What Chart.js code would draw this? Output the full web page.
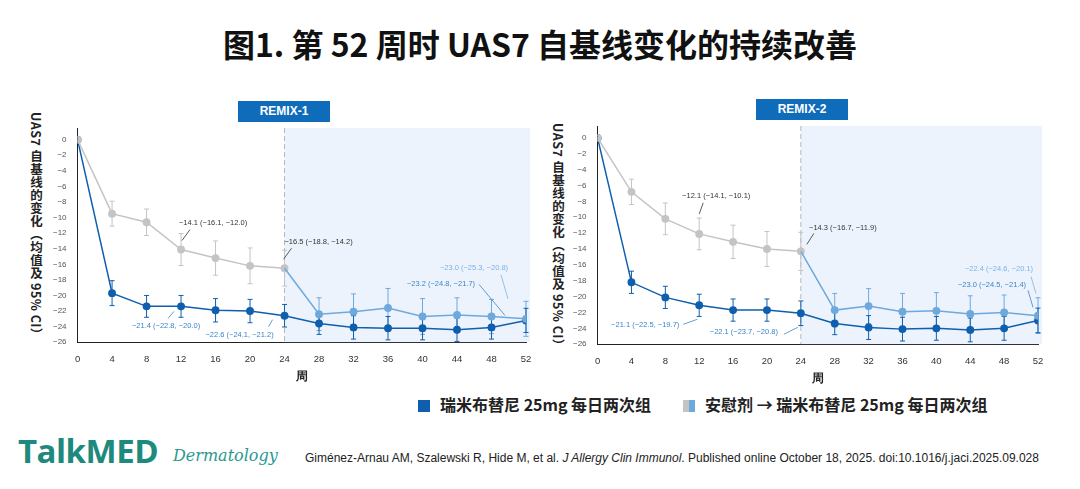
<!DOCTYPE html>
<html><head><meta charset="utf-8">
<script src="https://cdn.jsdelivr.net/npm/chart.js@4/dist/chart.umd.min.js"></script>
<style>
body{margin:0;width:1080px;height:489px;background:#fff;position:relative;overflow:hidden;font-family:"Noto Sans CJK SC","Noto Sans",sans-serif;}
.abs{position:absolute;}
h1{position:absolute;left:0;width:1080px;top:20px;margin:0;text-align:center;font-size:32px;font-weight:bold;color:#111;}
.banner{background:#0f6cba;color:#fff;font:bold 12px "Liberation Sans",Arial,sans-serif;text-align:center;line-height:21px;height:21px;width:92px;}
.ytitle{writing-mode:vertical-rl;font-size:12.5px;font-weight:bold;color:#222;letter-spacing:0.5px;}
.leg{font-size:16px;font-weight:bold;color:#222;}
.sq{display:inline-block;width:12px;height:12px;vertical-align:-1px;margin-right:10px;}
</style></head><body>
<h1>图1. 第 52 周时 UAS7 自基线变化的持续改善</h1>
<div class="abs banner" style="left:238px;top:101px">REMIX-1</div>
<div class="abs banner" style="left:756px;top:99px">REMIX-2</div>
<div class="abs ytitle" style="left:27px;top:112px">UAS7 自基线的变化（均值及 95% CI）</div>
<div class="abs ytitle" style="left:549px;top:123px">UAS7 自基线的变化（均值及 95% CI）</div>
<canvas id="c1" class="abs" style="left:50px;top:100px" width="490" height="288"></canvas>
<canvas id="c2" class="abs" style="left:570px;top:98px" width="500" height="292"></canvas>
<div class="abs leg" style="left:418px;top:392px"><span class="sq" style="background:#0f5fae"></span>瑞米布替尼 25mg 每日两次组</div>
<div class="abs leg" style="left:683px;top:392px"><span class="sq" style="width:6px;margin-right:0;background:#c4c4c4"></span><span class="sq" style="width:6px;background:#6ea9dd"></span>安慰剂 → 瑞米布替尼 25mg 每日两次组</div>
<div class="abs" style="left:18px;top:428px;font:bold 33px 'Open Sans',sans-serif;color:#1e8a7e;letter-spacing:-0.5px">TalkMED</div>
<div class="abs" style="left:173px;top:446px;font:italic 16px 'DejaVu Serif',serif;color:#2a9a90">Dermatology</div>
<div class="abs" style="left:305px;top:451px;font:12px 'Liberation Sans',Arial,sans-serif;color:#222">Giménez-Arnau AM, Szalewski R, Hide M, et al. <i>J Allergy Clin Immunol</i>. Published online October 18, 2025. doi:10.1016/j.jaci.2025.09.028</div>
<script>
const weeks = [0,4,8,12,16,20,24,28,32,36,40,44,48,52];
const placeboWeeks = [0,4,8,12,16,20,24];
const switchWeeks = [24,28,32,36,40,44,48,52];

// REMIX-1
const r1Rem = [0,-19.7,-21.4,-21.4,-21.9,-22.0,-22.6,-23.6,-24.1,-24.2,-24.2,-24.4,-24.1,-23.2];
const r1RemErr = [0,1.6,1.4,1.4,1.5,1.5,1.45,1.4,1.5,1.5,1.5,1.5,1.5,1.55];
const r1Pbo = [0,-9.5,-10.6,-14.1,-15.2,-16.2,-16.5];
const r1PboErr = [0,1.6,1.7,2.05,2.2,2.3,2.3];
const r1Sw = [-16.5,-22.4,-22.1,-21.6,-22.7,-22.5,-22.7,-23.0];
const r1SwErr = [0,2.1,2.3,2.5,2.3,2.2,2.2,2.25];
// REMIX-2
const r2Rem = [0,-18.2,-20.1,-21.1,-21.7,-21.7,-22.1,-23.4,-23.9,-24.1,-24.0,-24.2,-24.0,-23.0];
const r2RemErr = [0,1.4,1.4,1.4,1.4,1.4,1.55,1.4,1.5,1.5,1.5,1.5,1.5,1.55];
const r2Pbo = [0,-6.8,-10.2,-12.1,-13.1,-14.0,-14.3];
const r2PboErr = [0,1.6,2.0,2.0,2.1,2.2,2.4];
const r2Sw = [-14.3,-21.7,-21.2,-21.9,-21.8,-22.2,-22.0,-22.4];
const r2SwErr = [0,2.1,2.2,2.3,2.3,2.3,2.2,2.25];

// annotations: [week, value, text, kind, textDx, textDy, line x1,y1,x2,y2 offsets]
const r1Notes = [
  [12,-14.1,'−14.1 (−16.1, −12.0)','p',32,-27, 9,-20,1,-9],
  [24,-16.5,'−16.5 (−18.8, −14.2)','p',34,-26, 7,-20,-1,-9],
  [12,-21.4,'−21.4 (−22.8, −20.0)','r',-15,20, -13,12,-7,5],
  [24,-22.6,'−22.6 (−24.1, −21.2)','r',-45,19, -16,11,-12,4],
  [52,-23.0,'−23.0 (−25.3, −20.8)','s',-52,-51, -25,-44,-18,-20],
  [52,-23.2,'−23.2 (−24.8, −21.7)','r',-85,-36, -47,-36,-21,-5]
];
const r2Notes = [
  [12,-12.1,'−12.1 (−14.1, −10.1)','p',17,-38, 4,-31,0,-20],
  [24,-14.3,'−14.3 (−16.7, −11.9)','p',42,-23, 13,-18,6,-7],
  [12,-21.1,'−21.1 (−22.5, −19.7)','r',-54,20, -16,19,-2,14],
  [24,-22.1,'−22.1 (−23.7, −20.8)','r',-57,19, -17,21,-3,14],
  [52,-22.4,'−22.4 (−24.6, −20.1)','s',-39,-47, -7,-39,-2,-22],
  [52,-23.0,'−23.0 (−24.5, −21.4)','r',-46,-35, -10,-30,-5,-13]
];

const C_REM = '#0f5fae', C_PBO = '#c4c4c4', C_SW = '#6ea9dd';
const NOTE_COL = { p:'#333', r:'#3a85c8', s:'#7ab3e6' };

function pts(xs, ys){ return xs.map((x,i)=>({x, y:ys[i]})); }

const bgPlugin = {
  id:'bg',
  beforeDatasetsDraw(chart){
    const {ctx, chartArea:a, scales:{x}} = chart;
    const x24 = x.getPixelForValue(24);
    ctx.save();
    ctx.fillStyle = 'rgba(214,228,250,0.45)';
    ctx.fillRect(x24, a.top, a.right - x24 + 4, a.bottom - a.top);
    ctx.strokeStyle = '#b8b8b8'; ctx.setLineDash([5,3]); ctx.lineWidth = 1;
    ctx.beginPath(); ctx.moveTo(x24, a.top); ctx.lineTo(x24, a.bottom); ctx.stroke();
    ctx.restore();
    // error bars
    chart.data.datasets.forEach(ds => {
      if (!ds.err) return;
      ctx.save(); ctx.strokeStyle = ds.borderColor; ctx.lineWidth = 1;
      ds.data.forEach((p,i) => {
        const e = ds.err[i]; if (!e) return;
        const px = x.getPixelForValue(p.x);
        const y1 = chart.scales.y.getPixelForValue(p.y - e), y2 = chart.scales.y.getPixelForValue(p.y + e);
        ctx.beginPath();
        ctx.moveTo(px,y1); ctx.lineTo(px,y2);
        ctx.moveTo(px-2.5,y1); ctx.lineTo(px+2.5,y1);
        ctx.moveTo(px-2.5,y2); ctx.lineTo(px+2.5,y2);
        ctx.stroke();
      });
      ctx.restore();
    });
  },
  afterDatasetsDraw(chart){
    const {ctx, scales:{x,y}} = chart;
    const notes = chart.options.plugins.bg.notes;
    ctx.save();
    ctx.font = '7.5px "Liberation Sans", Arial, sans-serif';
    ctx.textAlign = 'center'; ctx.textBaseline = 'middle';
    notes.forEach(n => {
      const px = x.getPixelForValue(n[0]), py = y.getPixelForValue(n[1]);
      ctx.fillStyle = NOTE_COL[n[3]]; ctx.strokeStyle = NOTE_COL[n[3]];
      ctx.fillText(n[2], px + n[4], py + n[5]);
      ctx.lineWidth = 0.8;
      ctx.beginPath(); ctx.moveTo(px+n[6], py+n[7]); ctx.lineTo(px+n[8], py+n[9]); ctx.stroke();
    });
    ctx.restore();
  }
};

function makeChart(id, rem, remErr, pbo, pboErr, sw, swErr, notes, padRight){
  new Chart(document.getElementById(id), {
    type:'line',
    data:{ datasets:[
      { data:pts(switchWeeks, sw), err:swErr, borderColor:C_SW, backgroundColor:C_SW, borderWidth:1.5,
        pointRadius:switchWeeks.map((w,i)=>i===0?0:3.2), tension:0 },
      { data:pts(placeboWeeks, pbo), err:pboErr, borderColor:C_PBO, backgroundColor:C_PBO, borderWidth:1.5, pointRadius:3.2, tension:0 },
      { data:pts(weeks, rem), err:remErr, borderColor:C_REM, backgroundColor:C_REM, borderWidth:1.5, pointRadius:3.2, tension:0 }
    ]},
    options:{
      responsive:false, animation:false,
      layout:{ padding:{ left:0, right:padRight, top:28, bottom:0 } },
      plugins:{ legend:{display:false}, tooltip:{enabled:false}, bg:{ notes } },
      scales:{
        x:{ type:'linear', min:0, max:52, grid:{display:false, drawTicks:true},
            border:{color:'#222', width:1},
            ticks:{ stepSize:4, color:'#333', font:{size:9.5, family:'Liberation Sans'} },
            title:{ display:true, text:'周', color:'#222', font:{size:12, weight:'bold'}, padding:{top:2} } },
        y:{ min:-26, max:1.5, grid:{display:false},
            border:{color:'#222', width:1},
            afterBuildTicks(s){ s.ticks = s.ticks.filter(t => t.value <= 0); },
            ticks:{ stepSize:2, color:'#555', font:{size:8, family:'Liberation Sans'},
              callback:v => v < 0 ? '−' + Math.abs(v) : String(v) } }
      }
    },
    plugins:[bgPlugin]
  });
}
makeChart('c1', r1Rem, r1RemErr, r1Pbo, r1PboErr, r1Sw, r1SwErr, r1Notes, 14);
makeChart('c2', r2Rem, r2RemErr, r2Pbo, r2PboErr, r2Sw, r2SwErr, r2Notes, 32);
</script>
</body></html>
